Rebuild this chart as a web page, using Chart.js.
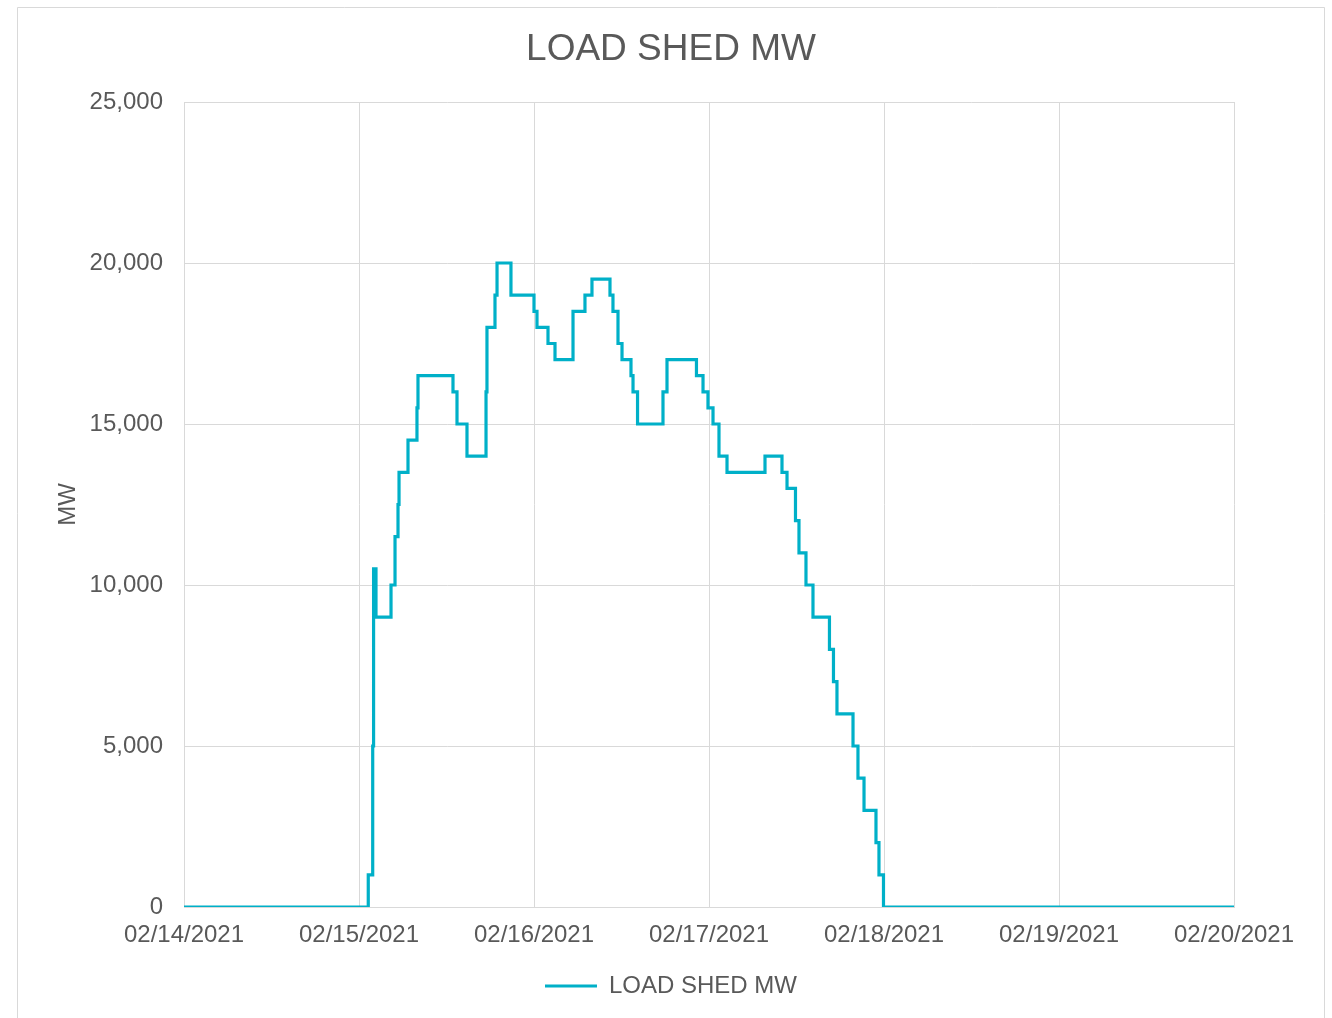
<!DOCTYPE html>
<html>
<head>
<meta charset="utf-8">
<script src="https://cdn.jsdelivr.net/npm/chart.js@4/dist/chart.umd.min.js"></script>
<style>
  html, body { margin: 0; padding: 0; background: #ffffff; }
  #wrap { width: 1332px; height: 1018px; position: relative; }
</style>
</head>
<body>
<div id="wrap"><canvas id="c" width="1332" height="1018"></canvas></div>
<script>
// Hours since 02/14/2021 00:00 at which the load shed level changes
const hours = [0, 25.27, 25.88, 26.0, 26.33, 28.39, 28.94, 29.35, 29.49, 30.72, 31.95, 32.09,
  36.89, 37.44, 38.81, 41.42, 41.55, 42.65, 42.93, 44.84, 48.0, 48.41, 49.92, 50.88,
  53.35, 54.99, 55.95, 58.42, 58.83, 59.52, 60.07, 61.3, 61.58, 62.2, 65.69, 66.24,
  70.28, 71.18, 71.86, 72.55, 73.37, 74.47, 79.68, 82.01, 82.70, 83.86, 84.34, 85.30,
  86.26, 88.52, 89.07, 89.55, 91.75, 92.43, 93.26, 94.90, 95.31, 95.93, 144];
// Load shed MW (new level starting at each time above)
const loadShedMW = [0, 1000, 5000, 10500, 9000, 10000, 11500, 12500, 13500, 14500, 15500, 16500,
  16000, 15000, 14000, 16000, 18000, 19000, 20000, 19000, 18500, 18000, 17500, 17000,
  18500, 19000, 19500, 19000, 18500, 17500, 17000, 16500, 16000, 15000, 16000, 17000,
  16500, 16000, 15500, 15000, 14000, 13500, 14000, 13500, 13000, 12000, 11000, 10000,
  9000, 8000, 7000, 6000, 5000, 4000, 3000, 2000, 1000, 0, 0];
const dateLabels = ['02/14/2021', '02/15/2021', '02/16/2021', '02/17/2021', '02/18/2021', '02/19/2021', '02/20/2021'];
const yTicks = [0, 5000, 10000, 15000, 20000, 25000];
const seriesName = 'LOAD SHED MW';
const chartTitle = 'LOAD SHED MW';
const yTitle = 'MW';

const LINE = '#00B0C8';
const TEXT = '#595959';
const GRID = '#D9D9D9';
const FONT = "'Liberation Sans', Arial, sans-serif";

const points = hours.map((h, i) => ({ x: h, y: loadShedMW[i] }));

const borderPlugin = {
  id: 'outerBorder',
  beforeDraw(chart) {
    const ctx = chart.ctx;
    ctx.save();
    ctx.fillStyle = '#ffffff';
    ctx.fillRect(0, 0, chart.width, chart.height);
    ctx.strokeStyle = GRID;
    ctx.lineWidth = 1;
    ctx.beginPath();
    ctx.moveTo(17.5, chart.height + 2);
    ctx.lineTo(17.5, 7.5);
    ctx.lineTo(1324.5, 7.5);
    ctx.lineTo(1324.5, chart.height + 2);
    ctx.stroke();
    ctx.restore();
  }
};

new Chart(document.getElementById('c'), {
  type: 'line',
  data: {
    datasets: [{
      label: seriesName,
      data: points,
      stepped: 'before',
      borderColor: LINE,
      backgroundColor: LINE,
      borderWidth: 3.2,
      pointRadius: 0,
      fill: false
    }]
  },
  options: {
    responsive: false,
    animation: false,
    devicePixelRatio: 1,
    layout: { padding: { left: 18, right: 8, top: 8, bottom: 10 } },
    plugins: {
      title: {
        display: true,
        text: chartTitle,
        color: TEXT,
        font: { family: FONT, size: 37, weight: 'normal' },
        padding: { top: 20, bottom: 29.6 }
      },
      legend: {
        display: true,
        position: 'bottom',
        labels: {
          color: TEXT,
          font: { family: FONT, size: 24 },
          boxWidth: 52,
          boxHeight: 3,
          padding: 10,
          generateLabels(chart) {
            return Chart.defaults.plugins.legend.labels.generateLabels(chart)
              .map(l => Object.assign(l, { lineWidth: 0, fillStyle: LINE }));
          }
        }
      },
      tooltip: { enabled: false }
    },
    scales: {
      x: {
        type: 'linear',
        min: 0,
        max: 144,
        afterBuildTicks(scale) {
          scale.ticks = dateLabels.map((_, i) => ({ value: i * 24 }));
        },
        ticks: {
          color: TEXT,
          font: { family: FONT, size: 24 },
          padding: 14,
          maxRotation: 0,
          autoSkip: false,
          callback: (v) => dateLabels[Math.round(v / 24)]
        },
        grid: { color: GRID, drawTicks: false, lineWidth: 1 },
        border: { color: GRID },
        afterFit(scale) { scale.height = 57; }
      },
      y: {
        min: 0,
        max: 25000,
        afterBuildTicks(scale) {
          scale.ticks = yTicks.map(v => ({ value: v }));
        },
        ticks: {
          color: TEXT,
          font: { family: FONT, size: 24 },
          padding: 21,
          callback: (v) => v.toLocaleString('en-US')
        },
        title: {
          display: true,
          text: yTitle,
          color: TEXT,
          font: { family: FONT, size: 24 },
          padding: { top: 36, bottom: 0 }
        },
        grid: { color: GRID, drawTicks: false, lineWidth: 1 },
        border: { color: GRID },
        afterFit(scale) { scale.width = 166; }
      },
      yRightSpace: {
        type: 'linear',
        position: 'right',
        min: 0,
        max: 25000,
        ticks: { display: false },
        grid: { display: false, drawTicks: false },
        border: { display: false },
        afterFit(scale) { scale.width = 90; }
      }
    }
  },
  plugins: [borderPlugin]
});
</script>
</body>
</html>
